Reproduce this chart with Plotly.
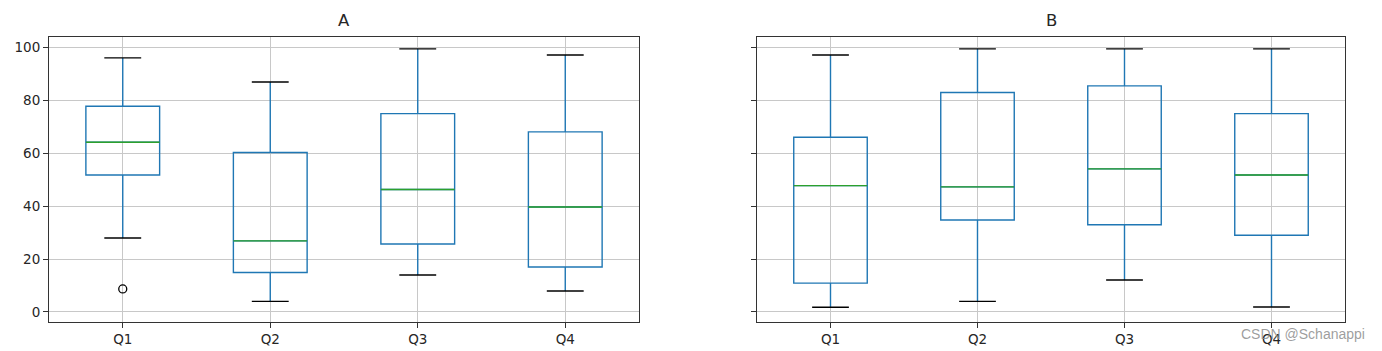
import plotly.graph_objects as go

categories = ["Q1", "Q2", "Q3", "Q4"]
positions = [1, 2, 3, 4]

# Panel A statistics
a_lower = [28.0, 4.0, 14.0, 7.9]
a_q1 = [51.8, 14.9, 25.7, 17.0]
a_median = [64.2, 26.9, 46.3, 39.7]
a_q3 = [77.8, 60.3, 75.0, 68.1]
a_upper = [96.1, 87.0, 99.5, 97.2]
a_outlier_x = [1]
a_outlier_y = [8.7]

# Panel B statistics
b_lower = [1.8, 4.0, 12.1, 1.9]
b_q1 = [10.9, 34.8, 33.0, 29.0]
b_median = [47.8, 47.3, 54.1, 51.8]
b_q3 = [66.1, 83.0, 85.5, 75.0]
b_upper = [97.2, 99.5, 99.5, 99.5]

y_ticks = [0, 20, 40, 60, 80, 100]

BLUE = "#1f77b4"
GREEN = "#2ca02c"
BOX_W = 0.5
CAP_W = 0.25

fig = go.Figure()


def add_panel(xa, ya, lower, q1, med, q3, upper):
    fig.add_trace(go.Box(
        x=positions, q1=q1, median=med, q3=q3,
        lowerfence=lower, upperfence=upper,
        width=BOX_W, whiskerwidth=0,
        line=dict(color=BLUE, width=1.4),
        fillcolor="rgba(0,0,0,0)",
        boxpoints=False, hoverinfo="skip",
        xaxis=xa, yaxis=ya, showlegend=False,
    ))
    mx, my, cx, cy = [], [], [], []
    for p, m, lo, up in zip(positions, med, lower, upper):
        mx += [p - BOX_W / 2, p + BOX_W / 2, None]
        my += [m, m, None]
        cx += [p - CAP_W / 2, p + CAP_W / 2, None, p - CAP_W / 2, p + CAP_W / 2, None]
        cy += [lo, lo, None, up, up, None]
    fig.add_trace(go.Scatter(x=mx, y=my, mode="lines",
                             line=dict(color=GREEN, width=1.4),
                             xaxis=xa, yaxis=ya, showlegend=False, hoverinfo="skip"))
    fig.add_trace(go.Scatter(x=cx, y=cy, mode="lines",
                             line=dict(color="black", width=1.4),
                             xaxis=xa, yaxis=ya, showlegend=False, hoverinfo="skip"))


add_panel("x", "y", a_lower, a_q1, a_median, a_q3, a_upper)
fig.add_trace(go.Scatter(x=a_outlier_x, y=a_outlier_y, mode="markers",
                         marker=dict(symbol="circle-open", color="black", size=8,
                                     line=dict(width=1.3)),
                         xaxis="x", yaxis="y", showlegend=False, hoverinfo="skip"))
add_panel("x2", "y2", b_lower, b_q1, b_median, b_q3, b_upper)

font = dict(family="DejaVu Sans", size=13.5, color="#262626")

common_x = dict(
    range=[0.5, 4.5], tickmode="array", tickvals=positions, ticktext=categories,
    showgrid=True, gridcolor="#c8c8c8", gridwidth=1,
    showline=True, linecolor="#333333", linewidth=1.1, mirror=True,
    ticks="outside", ticklen=5, tickcolor="#333333", zeroline=False,
    tickfont=font, automargin=False,
)
common_y = dict(
    range=[-3.8, 104.0], tickmode="array", tickvals=y_ticks,
    showgrid=True, gridcolor="#c8c8c8", gridwidth=1,
    showline=True, linecolor="#333333", linewidth=1.1, mirror=True,
    ticks="outside", ticklen=5, tickcolor="#333333", zeroline=False,
    tickfont=font, automargin=False,
)

PW = 1296
PH = 285

fig.update_layout(
    width=1382, height=351,
    margin=dict(l=49, r=37, t=37, b=29),
    paper_bgcolor="white", plot_bgcolor="white",
    boxmode="overlay",
    xaxis=dict(domain=[0, 590 / PW], anchor="y", **common_x),
    yaxis=dict(domain=[0, 1], anchor="x", **common_y),
    xaxis2=dict(domain=[708 / PW, 1], anchor="y2", **common_x),
    yaxis2=dict(domain=[0, 1], anchor="x2", showticklabels=False, **common_y),
    annotations=[
        dict(text="A", x=295 / PW, y=1, xref="paper", yref="paper",
             xanchor="center", yanchor="bottom", yshift=5, showarrow=False,
             font=dict(family="DejaVu Sans", size=16.5, color="#262626")),
        dict(text="B", x=1002 / PW, y=1, xref="paper", yref="paper",
             xanchor="center", yanchor="bottom", yshift=5, showarrow=False,
             font=dict(family="DejaVu Sans", size=16.5, color="#262626")),
        dict(text="CSDN @Schanappi", x=(1367 - 49) / PW, y=-12 / PH,
             xref="paper", yref="paper", xanchor="right", yanchor="middle",
             showarrow=False,
             font=dict(family="Liberation Sans", size=14, color="rgba(140,140,140,0.85)")),
    ],
)

fig.write_html("out.html")
